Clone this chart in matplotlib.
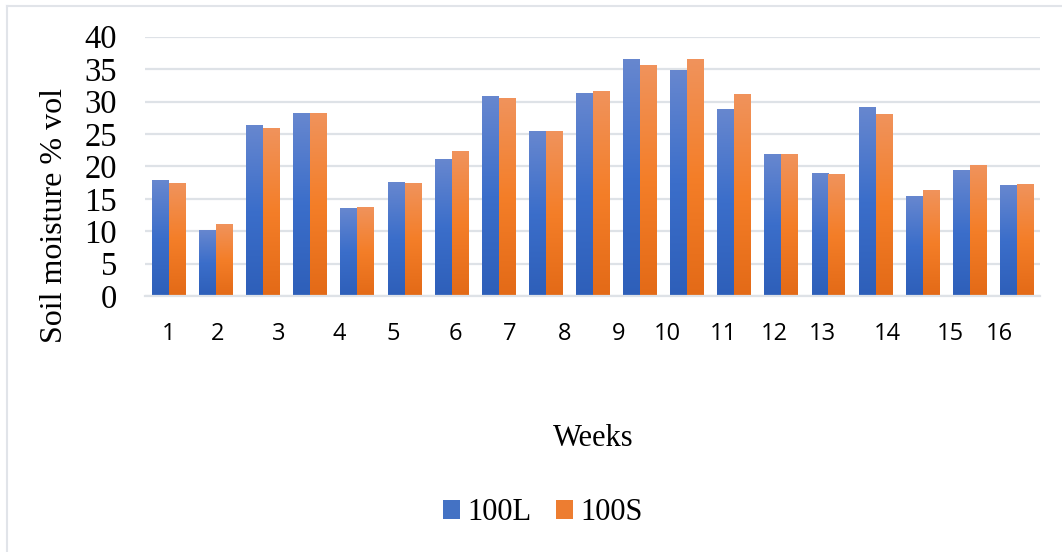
import numpy as np
import matplotlib
matplotlib.use("Agg")
import matplotlib.pyplot as plt
from matplotlib.colors import LinearSegmentedColormap
from matplotlib.patches import Patch
from matplotlib.lines import Line2D

# Soil moisture readings (% vol) for each sampling
series_100L = [17.8, 10.1, 26.3, 28.2, 13.5, 17.5, 21.1, 30.8, 25.4, 31.3,
               36.5, 34.8, 28.8, 21.8, 18.9, 29.1, 15.4, 19.4, 17.1]
series_100S = [17.4, 11.0, 25.9, 28.2, 13.7, 17.4, 22.3, 30.4, 25.4, 31.6,
               35.6, 36.5, 31.1, 21.8, 18.7, 28.0, 16.3, 20.1, 17.2]
series_names = ["100L", "100S"]

# Week labels and where they sit along the sampling axis
week_labels = ["1", "2", "3", "4", "5", "6", "7", "8", "9", "10",
               "11", "12", "13", "14", "15", "16"]
week_label_pos = [0.0, 1.03, 2.33, 3.62, 4.77, 6.08, 7.25, 8.40, 9.56, 10.6,
                  11.79, 12.85, 13.89, 15.25, 16.59, 17.63]

y_ticks = [0, 5, 10, 15, 20, 25, 30, 35, 40]

blue_cmap = LinearSegmentedColormap.from_list(
    "blue_grad", ["#2E5FB9", "#3B6ECA", "#6787CF"])
orange_cmap = LinearSegmentedColormap.from_list(
    "orange_grad", ["#E36A17", "#F47E28", "#F0935C"])

W, H = 1062, 552
fig = plt.figure(figsize=(W / 100, H / 100), dpi=100)
ax = fig.add_axes([145 / W, 1 - 296 / H, (1040 - 145) / W, (296 - 36.7) / H])

n = len(series_100L)
x = np.arange(n)
bw = 0.34
gap = 0.02
offsets = [-(bw + gap) / 2, (bw + gap) / 2]
grad = np.linspace(0, 1, 256).reshape(-1, 1)

for vals, off, cmap in [(series_100L, offsets[0], blue_cmap),
                        (series_100S, offsets[1], orange_cmap)]:
    bars = ax.bar(x + off, vals, width=bw, color="none", edgecolor="none", zorder=3)
    for b in bars:
        x0 = b.get_x()
        h = b.get_height()
        ax.imshow(grad, cmap=cmap, origin="lower", aspect="auto",
                  extent=[x0, x0 + bw, 0, h], zorder=3, interpolation="bilinear")

ax.set_xlim(-0.5, n - 0.5)
ax.set_ylim(0, 40)
ax.set_yticks(y_ticks)
ax.yaxis.grid(True, color="#DEE2E7", linewidth=1.6, zorder=0)
ax.set_axisbelow(True)
for s in ["top", "right", "left"]:
    ax.spines[s].set_visible(False)
ax.spines["bottom"].set_color("#DEE2E7")
ax.spines["bottom"].set_linewidth(1.6)
ax.spines["bottom"].set_zorder(4)
ax.tick_params(axis="y", length=0, pad=20, labelsize=23.5)
for lab in ax.get_yticklabels():
    lab.set_fontfamily("Liberation Serif")

ax.set_xticks(week_label_pos)
ax.set_xticklabels(week_labels, fontfamily="Open Sans", fontsize=17)
ax.tick_params(axis="x", length=0, pad=19)

fig.text(55 / W, 1 - 215 / H, "Soil moisture % vol", rotation=90,
         ha="center", va="center", fontfamily="Liberation Serif", fontsize=23)
fig.text(593 / W, 1 - 438 / H, "Weeks", ha="center", va="center",
         fontfamily="Liberation Serif", fontsize=22)

handles = [Patch(facecolor="#4472C4", edgecolor="none"),
           Patch(facecolor="#ED7D31", edgecolor="none")]
leg = fig.legend(handles, series_names, loc="center", bbox_to_anchor=(543 / W, 1 - 513 / H),
                 ncol=2, frameon=False, prop={"family": "Liberation Serif", "size": 22},
                 handlelength=0.55, handleheight=0.55, handletextpad=0.25, columnspacing=0.8)

# Light frame around the chart area
frame_col = "#E1E4E9"
fig.add_artist(Line2D([7 / W, 7 / W], [0, 1 - 6 / H], color=frame_col, lw=1.5,
                      transform=fig.transFigure))
fig.add_artist(Line2D([7 / W, 1], [1 - 6 / H, 1 - 6 / H], color=frame_col, lw=1.5,
                      transform=fig.transFigure))

fig.savefig("out.png", dpi=100, facecolor="white")
